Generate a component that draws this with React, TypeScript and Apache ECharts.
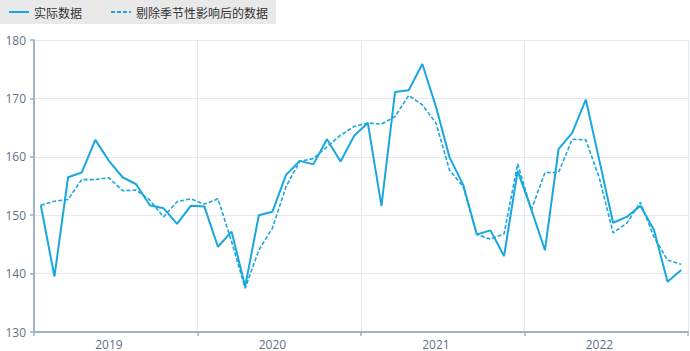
import React, { useEffect, useRef } from "react";
import * as echarts from "echarts";

const years = ["2019", "2020", "2021", "2022"];
const months = ["01", "02", "03", "04", "05", "06", "07", "08", "09", "10", "11", "12"];
const categories: string[] = years.flatMap((y) => months.map((m) => `${y}-${m}`));

const actual = [
  151.7, 139.5, 156.5, 157.3, 162.9, 159.3, 156.5, 155.3, 151.7, 151.2, 148.5, 151.6,
  151.5, 144.6, 147.2, 137.8, 150.0, 150.6, 156.9, 159.3, 158.7, 163.0, 159.2, 163.6,
  165.8, 151.6, 171.1, 171.4, 175.9, 168.6, 159.9, 155.2, 146.7, 147.4, 143.0, 157.6,
  151.0, 144.0, 161.3, 164.1, 169.8, 159.3, 148.7, 149.7, 151.6, 147.5, 138.6, 140.6,
];

const adjusted = [
  151.7, 152.4, 152.7, 156.1, 156.1, 156.4, 154.2, 154.3, 152.6, 149.7, 152.3, 152.8,
  151.9, 152.8, 145.5, 137.5, 144.0, 147.8, 154.9, 159.2, 159.7, 161.7, 163.7, 165.2,
  165.8, 165.6, 166.9, 170.5, 168.9, 165.8, 157.7, 154.9, 146.7, 145.9, 146.8, 158.8,
  150.9, 157.3, 157.3, 163.0, 162.9, 156.3, 147.0, 148.6, 152.2, 146.3, 142.3, 141.6,
];

const seriesNames = ["实际数据", "剔除季节性影响后的数据"];

export default function App() {
  const ref = useRef<HTMLDivElement>(null);
  useEffect(() => {
    if (!ref.current) return;
    const chart = echarts.init(ref.current, undefined, { renderer: "svg" });
    const lineColor = "#1aa7df";
    const axisColor = "#a2b2c5";
    const labelColor = "#5f7187";
    const gridColor = "#e5eaf0";
    chart.setOption({
      animation: false,
      legend: {
        left: 0,
        top: 0,
        padding: [6, 8, 6, 8],
        itemGap: 28,
        itemWidth: 20,
        itemHeight: 12,
        backgroundColor: "#e9e9e9",
        itemStyle: { opacity: 0 },
        textStyle: { fontSize: 12, color: "#333", fontFamily: "Noto Sans CJK SC" },
        data: seriesNames,
      },
      grid: { left: 34, right: 2, top: 40, bottom: 19, containLabel: false },
      xAxis: {
        type: "category",
        data: categories,
        boundaryGap: true,
        axisLine: { show: true, lineStyle: { color: axisColor, width: 2 } },
        axisTick: {
          show: true,
          length: 4,
          interval: (i: number) => i % 12 === 0,
          lineStyle: { color: axisColor, width: 1.5 },
        },
        axisLabel: {
          interval: (i: number) => i % 12 === 5,
          formatter: (v: string) => v.slice(0, 4),
          color: labelColor,
          fontSize: 12,
          margin: 6,
          fontFamily: "Open Sans",
        },
        splitLine: {
          show: true,
          interval: (i: number) => i % 12 === 0,
          lineStyle: { color: gridColor, width: 1 },
        },
      },
      yAxis: {
        type: "value",
        min: 130,
        max: 180,
        interval: 10,
        axisLine: { show: true, lineStyle: { color: axisColor, width: 2 } },
        axisTick: { show: true, length: 4, lineStyle: { color: axisColor, width: 1.5 } },
        axisLabel: { color: labelColor, fontSize: 12, margin: 8, fontFamily: "Open Sans" },
        splitLine: { show: true, lineStyle: { color: gridColor, width: 1 } },
      },
      series: [
        {
          name: seriesNames[0],
          type: "line",
          data: actual,
          symbol: "none",
          lineStyle: { color: lineColor, width: 2 },
          itemStyle: { color: lineColor },
        },
        {
          name: seriesNames[1],
          type: "line",
          data: adjusted,
          symbol: "none",
          lineStyle: { color: lineColor, width: 1.6, type: [4, 2] },
          itemStyle: { color: lineColor },
        },
      ],
    });
    return () => chart.dispose();
  }, []);
  return (
    <div
      ref={ref}
      style={{ position: "fixed", left: 0, top: 0, width: 690, height: 351, background: "#fff" }}
    />
  );
}
